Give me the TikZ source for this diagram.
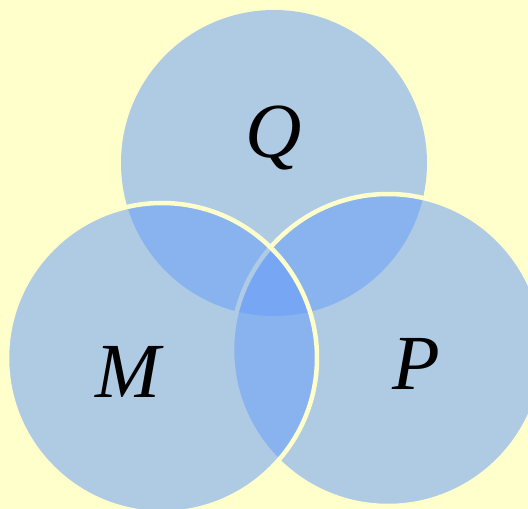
\documentclass[tikz,border=0pt]{standalone}
\usepackage{fontspec}
\setmainfont{Liberation Serif}
\definecolor{bgyellow}{RGB}{255,255,204}
\definecolor{setblue}{RGB}{103,157,250}
\tikzset{
  setfill/.style={fill=setblue, fill opacity=0.52},
  setrim/.style={draw=bgyellow, draw opacity=1, line width=4.5pt},
  setlabel/.style={font=\fontsize{78}{80}\selectfont\itshape, text=black, inner sep=0pt, anchor=base}
}
\begin{document}
\begin{tikzpicture}[x=1pt,y=-1pt]
  \useasboundingbox (0,0) rectangle (528,509);
  \fill[bgyellow] (0,0) rectangle (528,509);
  % Q
  \path[setfill] (274,163) circle[radius=153pt];
  % P
  \path[setfill, setrim] (388,350) circle[radius=156pt];
  % M
  \path[setfill, setrim] (162,358) circle[radius=155pt];
  \node[setlabel] (Q) at (274,157) {Q};
  \node[setlabel] (M) at (128,397) {M};
  \node[setlabel] (P) at (416,389) {P};
\end{tikzpicture}
\end{document}
